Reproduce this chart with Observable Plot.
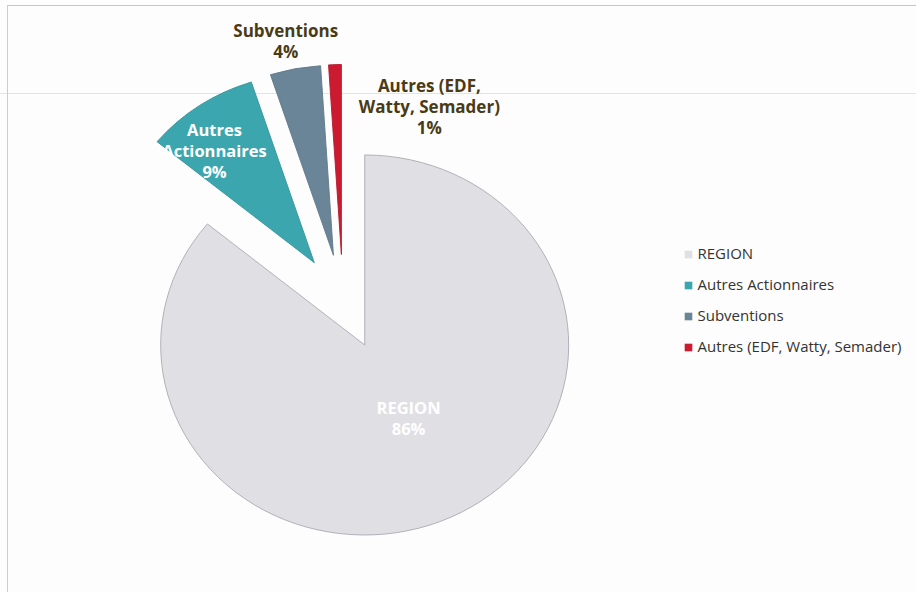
<!DOCTYPE html>
<html><head><meta charset="utf-8">
<script src="https://cdn.jsdelivr.net/npm/d3@7"></script>
<script src="https://cdn.jsdelivr.net/npm/@observablehq/plot@0.6"></script>
<style>
body{margin:0;background:#fff;font-family:"Open Sans",sans-serif;}
#wrap{position:relative;width:916px;height:592px;overflow:hidden;background:#fdfdfd}
#wrap svg{position:absolute;left:0;top:0}
#frame{position:absolute;left:7px;top:5px;right:-2px;bottom:-2px;border-top:1px solid #c6c6c6;border-left:1px solid #cdcdcd;pointer-events:none}
#scan{position:absolute;left:0;top:93px;width:916px;border-top:1px solid #e4e4e4;pointer-events:none}
</style></head><body><div id="wrap"><div id="scan"></div></div>
<script>
// ---- data ----
const categories = ["REGION", "Autres Actionnaires", "Subventions", "Autres (EDF, Watty, Semader)"];
const labelNames = ["REGION", "Autres\nActionnaires", "Subventions", "Autres (EDF,\nWatty, Semader)"];
const values = [86, 9, 4, 1];
const colors = ["#e0e0e4", "#3ba6ae", "#6b8598", "#cc1b31"];

// ---- layout ----
const W = 916, H = 592;
const cx = 343, cy = 302, rx = 204, ry = 190;   // pie centre and radii in pixels
const explode = 0.25;                          // explosion, fraction of radius
const labelInside = [true, true, false, false];
const labelPlace = [{da: -2.6, r: 0.684}, {da: -4.1, r: 1.02}, {da: -0.8, r: 1.408}, {da: 24.0, r: 1.114}];
const legendX = (688 - cx) / rx, legendTextX = (697 - cx) / rx;
const legendY0 = (cy - 254) / ry, legendStep = 31 / ry;

const total = d3.sum(values);
const arcs = d3.pie().sort(null).value(d => d).startAngle(0).endAngle(2 * Math.PI)(values);

const labels = arcs.map((a, i) => {
  const m = (a.startAngle + a.endAngle) / 2 + labelPlace[i].da * Math.PI / 180;
  return {
    name: categories[i],
    text: labelNames[i] + "\n" + Math.round(values[i] / total * 100) + "%",
    x: labelPlace[i].r * Math.sin(m),
    y: labelPlace[i].r * Math.cos(m),
    inside: labelInside[i]
  };
});

const legend = categories.map((c, i) => ({name: c, color: colors[i], x: legendX, tx: legendTextX, y: legendY0 - i * legendStep}));

function pieRender(index, scales) {
  const {x, y} = scales;
  const sx = x(1) - x(0), sy = y(0) - y(1);
  const arc = d3.arc().innerRadius(0).outerRadius(1);
  const g = d3.create("svg:g");
  for (const a of arcs) {
    const m = (a.startAngle + a.endAngle) / 2;
    const ox = explode * Math.sin(m), oy = explode * Math.cos(m);
    g.append("path")
      .attr("transform", `translate(${x(ox)},${y(oy)}) scale(${sx},${sy})`)
      .attr("d", arc(a))
      .attr("fill", colors[a.index])
      .attr("stroke", a.index === 0 ? "#a9a9b2" : d3.color(colors[a.index]).darker(0.3))
      .attr("stroke-width", 0.9)
      .attr("vector-effect", "non-scaling-stroke");
  }
  return g.node();
}

const chart = Plot.plot({
  width: W, height: H, margin: 0,
  style: {background: "transparent", fontFamily: "'Open Sans', sans-serif"},
  x: {domain: [-1, 1], range: [cx - rx, cx + rx], axis: null},
  y: {domain: [-1, 1], range: [cy + ry, cy - ry], axis: null},
  marks: [
    pieRender,
    Plot.text(labels.filter(d => d.inside), {x: "x", y: "y", text: "text", fill: "white", fontSize: 16.5, fontWeight: 700, lineHeight: 1.27}),
    Plot.text(labels.filter(d => !d.inside), {x: "x", y: "y", text: "text", fill: "#4a3b15", fontSize: 17, fontWeight: 700, lineHeight: 1.23}),
    Plot.dot(legend, {x: "x", y: "y", symbol: "square", r: 4.3, fill: "color"}),
    Plot.text(legend, {x: "tx", y: "y", text: "name", textAnchor: "start", fill: "#333333", fontSize: 15})
  ]
});
const wrap = document.getElementById("wrap");
wrap.appendChild(chart);
const fr = document.createElement("div"); fr.id = "frame"; wrap.appendChild(fr);
</script>
</body></html>
